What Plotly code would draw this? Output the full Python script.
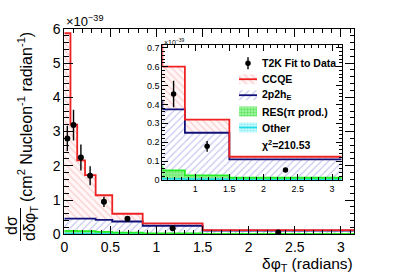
import math
import plotly.graph_objects as go

# ---------------- data ----------------
bin_edges = [0.0, 0.067, 0.14, 0.225, 0.34, 0.52, 0.85, 1.5, math.pi]
data_x = [0.033, 0.10, 0.18, 0.28, 0.43, 0.685, 1.175, 2.32]
data_y = [2.80, 3.19, 2.24, 1.71, 0.95, 0.455, 0.178, 0.053]
data_err = [0.37, 0.45, 0.38, 0.28, 0.15, 0.07, 0.028, 0.008]

other = [0.020, 0.020, 0.020, 0.016, 0.012, 0.006, 0.004, 0.003]
res = [0.080, 0.080, 0.075, 0.074, 0.058, 0.045, 0.021, 0.009]
mec2p2h = [0.355, 0.360, 0.365, 0.365, 0.350, 0.323, 0.225, 0.097]
ccqe = [5.415, 2.740, 1.700, 1.275, 0.720, 0.226, 0.069, 0.014]

chi2_label = "χ<sup>2</sup>=210.53"

# ---------------- helpers ----------------
W, H = 407, 275


def px(x):
    return x / W


def py(y):
    return 1 - y / H


def cum(*layers):
    out = [0.0] * len(layers[0])
    for l in layers:
        out = [a + b for a, b in zip(out, l)]
    return out


top_other = cum(other)
top_res = cum(other, res)
top_2p2h = cum(other, res, mec2p2h)
top_ccqe = cum(other, res, mec2p2h, ccqe)

styles = [
    dict(name="Other", top=top_other, line="#22dde8",
         pat=dict(shape=".", fgcolor="#55e6f0", bgcolor="#d8fbff", size=3, solidity=0.5)),
    dict(name="RES", top=top_res, line="#22ee22",
         pat=dict(shape="+", fgcolor="#22cc22", bgcolor="#9af59a", size=3, solidity=0.35)),
    dict(name="2p2h", top=top_2p2h, line="#10107a",
         pat=dict(shape="/", fgcolor="#8f8fe3", bgcolor="white", size=5, solidity=0.25)),
    dict(name="CCQE", top=top_ccqe, line="#ee2222",
         pat=dict(shape="\\", fgcolor="#f5a3a3", bgcolor="#fff7f7", size=5, solidity=0.25)),
]

fig = go.Figure()

for ax in [("x", "y"), ("x2", "y2")]:
    for i, s in enumerate(styles):
        fig.add_trace(go.Scatter(
            x=bin_edges, y=s["top"] + [s["top"][-1]],
            mode="lines", line=dict(shape="hv", color=s["line"], width=1.8),
            fill="tozeroy" if i == 0 else "tonexty",
            fillpattern=s["pat"],
            xaxis=ax[0], yaxis=ax[1], hoverinfo="skip", showlegend=False))
    fig.add_trace(go.Scatter(
        x=data_x, y=data_y, mode="markers",
        marker=dict(color="black", size=6 if ax[0] == "x" else 5.5),
        error_y=dict(type="data", array=data_err, color="black",
                     thickness=1.4, width=0),
        xaxis=ax[0], yaxis=ax[1], showlegend=False))

# ---------------- legend (overlay pixel axis) ----------------
leg_x0, leg_x1 = 239, 257
rows = [63.3, 79.2, 95.2, 111.5, 127.5]
labels = ["T2K Fit to Data", "CCQE", "2p2h<sub>E</sub>", "RES(π prod.)", "Other"]
box_styles = [None, styles[3], styles[2], styles[1], styles[0]]
for r, lab, s in zip(rows, labels, box_styles):
    if s is None:
        fig.add_trace(go.Scatter(
            x=[(leg_x0 + leg_x1) / 2], y=[r], mode="markers",
            marker=dict(color="black", size=5.5),
            error_y=dict(type="constant", value=6, color="black", thickness=1.4, width=0),
            xaxis="x3", yaxis="y3", showlegend=False))
    else:
        y0, y1 = r - 5, r + 5
        fig.add_trace(go.Scatter(
            x=[leg_x0, leg_x1, leg_x1, leg_x0, leg_x0],
            y=[y0, y0, y1, y1, y0], mode="lines", line=dict(width=0),
            fill="toself", fillpattern=s["pat"],
            xaxis="x3", yaxis="y3", showlegend=False, hoverinfo="skip"))
        if s["name"] != "RES":
            fig.add_trace(go.Scatter(
                x=[leg_x0, leg_x1], y=[r, r], mode="lines",
                line=dict(color=s["line"], width=1.8),
                xaxis="x3", yaxis="y3", showlegend=False, hoverinfo="skip"))
    fig.add_annotation(x=px(260), y=py(r), xref="paper", yref="paper",
                       text="<b>%s</b>" % lab, showarrow=False, xanchor="left",
                       yanchor="middle",
                       font=dict(family="Liberation Sans", size=10.5, color="black"))

fig.add_annotation(x=px(260), y=py(144), xref="paper", yref="paper",
                   text="<b>%s</b>" % chi2_label, showarrow=False, xanchor="left",
                   yanchor="middle",
                   font=dict(family="Liberation Sans", size=10.5, color="black"))

# ---------------- axes ----------------
font = "Liberation Sans"
common = dict(showline=True, linecolor="black", linewidth=1, mirror="ticks",
              ticks="inside", showgrid=False, zeroline=False, tickcolor="black",
              automargin=False)

fig.update_layout(
    width=W, height=H, margin=dict(l=0, r=0, t=0, b=0),
    paper_bgcolor="white", plot_bgcolor="rgba(0,0,0,0)", showlegend=False,
    xaxis=dict(common, domain=[px(64.3), px(354)], range=[0, math.pi],
               tick0=0, dtick=0.5, ticklen=8,
               minor=dict(ticks="inside", ticklen=4, tick0=0, dtick=0.1, tickcolor="black"),
               tickfont=dict(family=font, size=14, color="black"), anchor="y"),
    yaxis=dict(common, domain=[py(234.3), py(28.8)], range=[0, 6],
               tick0=0, dtick=1, ticklen=9,
               minor=dict(ticks="inside", ticklen=4.5, tick0=0, dtick=0.2, tickcolor="black"),
               tickfont=dict(family=font, size=14, color="black"), anchor="x"),
    xaxis2=dict(common, domain=[px(162.3), px(341.7)], range=[0.52, math.pi],
                tick0=0, dtick=0.5, ticklen=6,
                minor=dict(ticks="inside", ticklen=3, tick0=0, dtick=0.1, tickcolor="black"),
                tickfont=dict(family=font, size=9, color="black"), anchor="y2"),
    yaxis2=dict(common, domain=[py(180), py(44.5)], range=[0, 0.717],
                tick0=0, dtick=0.1, ticklen=6,
                minor=dict(ticks="inside", ticklen=3, tick0=0, dtick=0.02, tickcolor="black"),
                tickfont=dict(family=font, size=9, color="black"), anchor="x2"),
    xaxis3=dict(domain=[0, 1], range=[0, W], visible=False, anchor="y3", automargin=False),
    yaxis3=dict(domain=[0, 1], range=[H, 0], visible=False, anchor="x3", automargin=False),
)

# ---------------- titles / annotations ----------------
fig.add_annotation(x=px(64), y=py(21.5), xref="paper", yref="paper",
                   text="×10<sup>−39</sup>", showarrow=False, xanchor="left",
                   yanchor="middle", font=dict(family=font, size=13, color="black"))
fig.add_annotation(x=px(162), y=py(42), xref="paper", yref="paper",
                   text="×10<sup>−39</sup>", showarrow=False, xanchor="left",
                   yanchor="middle", font=dict(family=font, size=7, color="black"))

fig.add_annotation(x=px(354), y=py(264), xref="paper", yref="paper",
                   text="δφ<sub>T</sub> (radians)", showarrow=False, xanchor="right",
                   yanchor="middle", borderpad=0,
                   font=dict(family=font, size=15.5, color="black"))

# y title: fraction + units
fig.add_annotation(x=px(11), y=py(226), xref="paper", yref="paper",
                   text="dσ", textangle=-90, showarrow=False,
                   xanchor="center", yanchor="middle",
                   font=dict(family=font, size=16, color="black"))
fig.add_annotation(x=px(30), y=py(224), xref="paper", yref="paper",
                   text="dδφ<sub>T</sub>", textangle=-90, showarrow=False,
                   xanchor="center", yanchor="middle",
                   font=dict(family=font, size=16, color="black"))
fig.add_shape(type="line", xref="paper", yref="paper",
              x0=px(20.5), x1=px(20.5), y0=py(208), y1=py(241),
              line=dict(color="black", width=1))
fig.add_annotation(x=px(25), y=py(117), xref="paper", yref="paper",
                   text="(cm<sup>2</sup> Nucleon<sup>-1</sup> radian<sup>-1</sup>)",
                   textangle=-90, showarrow=False, xanchor="center", yanchor="middle",
                   font=dict(family=font, size=16, color="black"))

fig.write_html("out.html", post_script="document.body.style.margin='0';",
               config={"displayModeBar": False})
